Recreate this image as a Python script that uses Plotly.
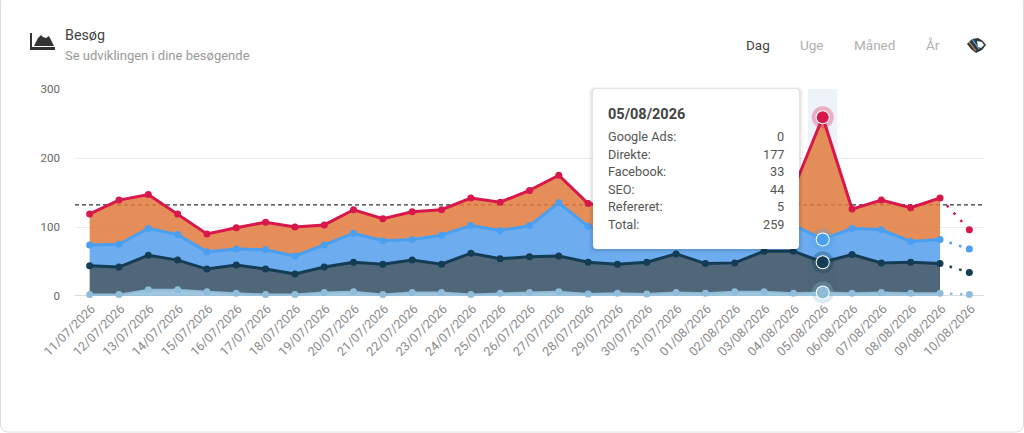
import plotly.graph_objects as go

W = 1024
H = 433
L, R, T, B = 75, 40, 89, 137

dates = ['11/07/2026', '12/07/2026', '13/07/2026', '14/07/2026', '15/07/2026', '16/07/2026',
         '17/07/2026', '18/07/2026', '19/07/2026', '20/07/2026', '21/07/2026', '22/07/2026',
         '23/07/2026', '24/07/2026', '25/07/2026', '26/07/2026', '27/07/2026', '28/07/2026',
         '29/07/2026', '30/07/2026', '31/07/2026', '01/08/2026', '02/08/2026', '03/08/2026',
         '04/08/2026', '05/08/2026', '06/08/2026', '07/08/2026', '08/08/2026', '09/08/2026',
         '10/08/2026']

refereret = [2, 2, 9, 9, 6, 4, 2, 2, 5, 6, 2, 5, 5, 2, 4, 5, 6, 3, 4, 3, 5, 4, 6, 6, 4, 5, 4, 5, 4, 4, 2]
seo = [42, 40, 50, 43, 33, 41, 37, 30, 37, 43, 44, 47, 41, 60, 50, 52, 52, 46, 42, 46, 56, 43, 42, 59, 61, 44, 56, 43, 45, 43, 32]
facebook = [30, 33, 39, 37, 25, 23, 28, 26, 32, 42, 34, 30, 42, 40, 41, 45, 77, 52, 49, 43, 36, 41, 42, 33, 38, 33, 38, 48, 30, 35, 34]
direkte = [45, 64, 49, 30, 26, 31, 40, 42, 29, 34, 32, 40, 37, 40, 41, 51, 40, 33, 33, 33, 31, 47, 35, 32, 52, 177, 28, 43, 49, 60, 28]

average = 132
hover_index = 25
y_ticks = [0, 100, 200, 300]
tooltip_rows = [('Google Ads:', 0), ('Direkte:', 177), ('Facebook:', 33), ('SEO:', 44), ('Refereret:', 5), ('Total:', 259)]
periods = [('Dag', 744, '#444444'), ('Uge', 798, '#b0b0b0'), ('Måned', 852, '#b0b0b0'), ('År', 924, '#b0b0b0')]

series = [
    ('Refereret', refereret, '#8fbdd9', 'rgba(143,189,217,0.85)'),
    ('SEO', seo, '#143c54', 'rgba(40,70,90,0.82)'),
    ('Facebook', facebook, '#4a9ff0', 'rgba(82,158,236,0.85)'),
    ('Direkte', direkte, '#d8174b', 'rgba(224,122,60,0.85)'),
]


def px(x):
    return (x - L) / (W - L - R)


def py(y):
    return 1 - (y - T) / (H - T - B)


def label(x, y, text, size, color, anchor='left', bold=False):
    fig.add_annotation(
        x=px(x), y=py(y), xref='paper', yref='paper', text=f'<b>{text}</b>' if bold else text,
        showarrow=False, xanchor=anchor, yanchor='middle', align=anchor,
        font=dict(family='Roboto', size=size, color=color),
    )


def box_path(x0, y0, x1, y1, r=4):
    return (f'M{px(x0 + r)},{py(y0)} L{px(x1 - r)},{py(y0)} Q{px(x1)},{py(y0)} {px(x1)},{py(y0 + r)} '
            f'L{px(x1)},{py(y1 - r)} Q{px(x1)},{py(y1)} {px(x1 - r)},{py(y1)} '
            f'L{px(x0 + r)},{py(y1)} Q{px(x0)},{py(y1)} {px(x0)},{py(y1 - r)} '
            f'L{px(x0)},{py(y0 + r)} Q{px(x0)},{py(y0)} {px(x0 + r)},{py(y0)} Z')


def poly(points):
    return 'M' + ' L'.join(f'{px(x)},{py(y)}' for x, y in points) + ' Z'


fig = go.Figure()

# filled part stops at the last full day, the last day is only dotted
for name, values, line_color, fill_color in series:
    fig.add_trace(go.Scatter(
        x=dates[:30], y=values[:30], name=name, stackgroup='main', mode='lines+markers',
        line=dict(color=line_color, width=3 if name in ('Direkte', 'Facebook', 'SEO') else 2),
        marker=dict(color=line_color, size=7), fillcolor=fill_color, cliponaxis=False,
    ))

for name, values, line_color, fill_color in series:
    fig.add_trace(go.Scatter(
        x=dates[29:], y=values[29:], name=name, stackgroup='forecast', fill='none', mode='lines',
        line=dict(color=line_color, width=2.5, dash='2.5px,7.5px'), cliponaxis=False,
    ))
    fig.add_trace(go.Scatter(
        x=dates[30:], y=values[30:], name=name, stackgroup='forecast_end', fill='none', mode='markers',
        marker=dict(color=line_color, size=7), cliponaxis=False,
    ))

# hovered day: halo, white ring, dot
for name, values, line_color, fill_color in series:
    fig.add_trace(go.Scatter(
        x=[dates[hover_index]], y=[values[hover_index]], name=name, stackgroup='halo', fill='none',
        mode='markers', marker=dict(color=line_color, size=22, opacity=0.3), cliponaxis=False,
    ))
    fig.add_trace(go.Scatter(
        x=[dates[hover_index]], y=[values[hover_index]], name=name, stackgroup='ring', fill='none',
        mode='markers', marker=dict(color='white', size=14), cliponaxis=False,
    ))
    fig.add_trace(go.Scatter(
        x=[dates[hover_index]], y=[values[hover_index]], name=name, stackgroup='dot', fill='none',
        mode='markers', marker=dict(color=line_color, size=12), cliponaxis=False,
    ))

fig.update_layout(
    width=W, height=H, autosize=False, showlegend=False, hovermode=False,
    margin=dict(l=L, r=R, t=T, b=B), paper_bgcolor='white', plot_bgcolor='white',
    font=dict(family='Roboto', color='#777777'),
    xaxis=dict(
        type='category', categoryorder='array', categoryarray=dates, range=[-0.5, 30.5],
        tickmode='array', tickvals=dates, ticktext=dates, tickangle=-45,
        tickfont=dict(family='Roboto', size=12.5, color='#8a8a8a'), showgrid=False, zeroline=False,
        showline=False, ticks='', ticklabelstandoff=2, ticklabelshift=2,
    ),
    yaxis=dict(
        range=[0, 300], tickvals=y_ticks, tickfont=dict(family='Roboto', size=11.5, color='#666666'),
        gridcolor='#ececec', gridwidth=1, zeroline=False, showline=False, ticklabelstandoff=14,
    ),
    shapes=[
        # card border
        dict(type='path', xref='paper', yref='paper', path=box_path(0.5, -6, 1023.5, 432, 8),
             line=dict(color='#dddddd', width=1), fillcolor='rgba(0,0,0,0)', layer='below'),
        # hovered day band and average line
        dict(type='rect', xref='x', yref='paper', x0=24.5, x1=25.5, y0=0, y1=1,
             fillcolor='#eef3fa', line=dict(width=0), layer='below'),
        dict(type='line', xref='paper', yref='y', x0=0, x1=1, y0=average, y1=average,
             line=dict(color='#333333', width=1.2, dash='4px,3px'), layer='below'),
        dict(type='line', xref='paper', yref='y', x0=0, x1=1, y0=0, y1=0,
             line=dict(color='#c5d3dd', width=1.5), layer='below'),
        # tooltip with soft shadow
        dict(type='path', xref='paper', yref='paper', path=box_path(589, 87, 803, 253, 6),
             fillcolor='rgba(0,0,0,0.04)', line=dict(width=0)),
        dict(type='path', xref='paper', yref='paper', path=box_path(591, 88, 801, 251, 5),
             fillcolor='rgba(0,0,0,0.07)', line=dict(width=0)),
        dict(type='path', xref='paper', yref='paper', path=box_path(593, 89, 799, 249, 4),
             fillcolor='white', line=dict(width=0)),
        # area chart icon
        dict(type='path', xref='paper', yref='paper',
             path=poly([(30, 33), (32, 33), (32, 47), (55, 47), (55, 50), (30, 50)]),
             fillcolor='#333333', line=dict(width=0)),
        dict(type='path', xref='paper', yref='paper',
             path=poly([(34, 46), (38, 38), (41, 35), (43, 37), (46, 38), (49, 36), (54, 46)]),
             fillcolor='#333333', line=dict(width=0)),
        # hide icon: eye outline with striped left half
        dict(type='path', xref='paper', yref='paper',
             path=poly([(967, 44), (972, 39), (978, 38), (983, 41), (986, 45), (982, 50), (976, 53), (971, 49)]),
             fillcolor='#2b3a46', line=dict(width=0)),
        dict(type='path', xref='paper', yref='paper',
             path=poly([(977, 41), (982, 42), (984, 45), (981, 48), (978, 47)]),
             fillcolor='white', line=dict(width=0)),
        dict(type='line', xref='paper', yref='paper', x0=px(969), y0=py(42), x1=px(976), y1=py(51),
             line=dict(color='#e08a4a', width=1.2)),
        dict(type='line', xref='paper', yref='paper', x0=px(972), y0=py(39), x1=px(979), y1=py(49),
             line=dict(color='#6aa9e8', width=1.2)),
    ],
)

label(63, 35, 'Besøg', 14.3, '#444444')
label(63, 56, 'Se udviklingen i dine besøgende', 13, '#999999')
for text, x, color in periods:
    label(x, 45, text, 13.5, color)

label(606, 114, dates[hover_index], 14.5, '#444444', bold=True)
for i, (text, value) in enumerate(tooltip_rows):
    row_y = 136.5 + i * 17.6
    label(606, row_y, text, 12.7, '#555555')
    label(786, row_y, str(value), 12.7, '#555555', anchor='right')

fig.write_html('out.html', config=dict(displayModeBar=False), post_script="document.body.style.margin='0';")
